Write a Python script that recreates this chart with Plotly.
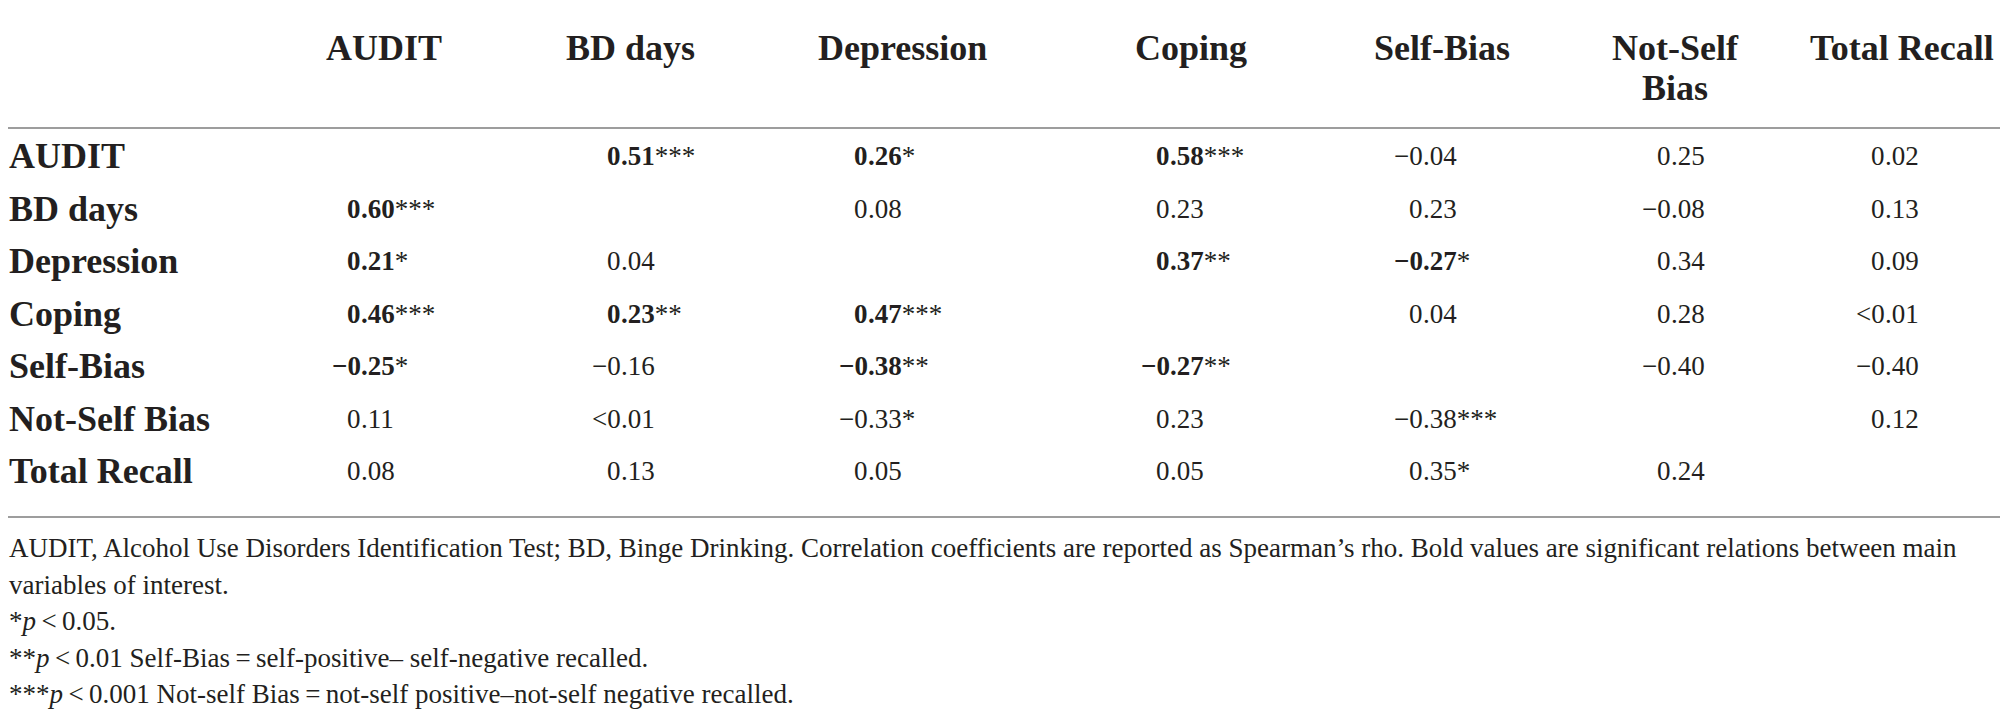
import plotly.graph_objects as go

# table content
variables = ["AUDIT", "BD days", "Depression", "Coping", "Self-Bias", "Not-Self Bias", "Total Recall"]
col_headers = ["AUDIT", "BD days", "Depression", "Coping", "Self-Bias", "Not-Self<br>Bias", "Total Recall"]

rho = [
    [None, "0.51", "0.26", "0.58", "\u22120.04", "0.25", "0.02"],
    ["0.60", None, "0.08", "0.23", "0.23", "\u22120.08", "0.13"],
    ["0.21", "0.04", None, "0.37", "\u22120.27", "0.34", "0.09"],
    ["0.46", "0.23", "0.47", None, "0.04", "0.28", "<0.01"],
    ["\u22120.25", "\u22120.16", "\u22120.38", "\u22120.27", None, "\u22120.40", "\u22120.40"],
    ["0.11", "<0.01", "\u22120.33", "0.23", "\u22120.38", None, "0.12"],
    ["0.08", "0.13", "0.05", "0.05", "0.35", "0.24", None],
]
stars = [
    ["", "***", "*", "***", "", "", ""],
    ["***", "", "", "", "", "", ""],
    ["*", "", "", "**", "*", "", ""],
    ["***", "**", "***", "", "", "", ""],
    ["*", "", "**", "**", "", "", ""],
    ["", "", "*", "", "***", "", ""],
    ["", "", "", "", "*", "", ""],
]
bold = [
    [0, 1, 1, 1, 0, 0, 0],
    [1, 0, 0, 0, 0, 0, 0],
    [1, 0, 0, 1, 1, 0, 0],
    [1, 1, 1, 0, 0, 0, 0],
    [1, 0, 1, 1, 0, 0, 0],
    [0, 0, 0, 0, 0, 0, 0],
    [0, 0, 0, 0, 0, 0, 0],
]

notes = [
    "AUDIT, Alcohol Use Disorders Identification Test; BD, Binge Drinking. Correlation coefficients are reported as Spearman\u2019s rho. Bold values are significant relations between main",
    "variables of interest.",
    "*<i>p</i>\u2009<\u20090.05.",
    "**<i>p</i>\u2009<\u20090.01 Self-Bias\u2009=\u2009self-positive\u2013 self-negative recalled.",
    "***<i>p</i>\u2009<\u20090.001 Not-self Bias\u2009=\u2009not-self positive\u2013not-self negative recalled.",
]

# layout, in screen pixels (page body has an 8px margin)
W, H = 2008, 726
OFF = 8
FONT = "Liberation Serif"
INK = "#231f20"
LEFT = OFF + 0.5
col_dec = [361, 621, 868, 1170, 1423, 1671, 1885]   # decimal point per column
head_cx = [384, 630, 902, 1191, 1442, 1675, 1902]   # header centres
head_y0, head_dy = 48, 40
row_y0, row_dy = 156, 52.5
note_y0, note_dy = 548, 36.5

fig = go.Figure()
anns = []


def ann(x, y, text, size, xanchor):
    anns.append(dict(x=x, y=y, xref="x", yref="y", text=text, showarrow=False,
                     xanchor=xanchor, yanchor="middle",
                     borderpad=0, borderwidth=0,
                     font=dict(family=FONT, size=size, color=INK)))


# column headers
for j, h in enumerate(col_headers):
    for k, part in enumerate(h.split("<br>")):
        ann(head_cx[j], head_y0 + k * head_dy, "<b>" + part + "</b>", 36, "center")

# row labels + cells (decimal aligned)
for i, name in enumerate(variables):
    y = row_y0 + i * row_dy
    ann(LEFT, y, "<b>" + name + "</b>", 36, "left")
    for j in range(len(variables)):
        s = rho[i][j]
        if s is None:
            continue
        k = s.index(".")
        head, tail = s[:k], s[k:]
        if bold[i][j]:
            head, tail = "<b>" + head + "</b>", "<b>" + tail + "</b>"
        ann(col_dec[j], y, head, 27, "right")
        ann(col_dec[j], y, tail + stars[i][j], 27, "left")

# notes
for n, line in enumerate(notes):
    ann(LEFT, note_y0 + n * note_dy, line, 27, "left")

# horizontal rules
for yr in [128, 517]:
    fig.add_shape(type="line", xref="paper", x0=0, x1=1, yref="y", y0=yr, y1=yr,
                  line=dict(color="#9d9d9d", width=2))

fig.update_layout(
    width=W - OFF, height=H - OFF,
    margin=dict(l=0, r=0, t=0, b=0),
    paper_bgcolor="white", plot_bgcolor="white",
    annotations=anns,
    showlegend=False,
    xaxis=dict(range=[OFF, W], visible=False, fixedrange=True),
    yaxis=dict(range=[H, OFF], visible=False, fixedrange=True),
)

fig.write_html("out.html")
